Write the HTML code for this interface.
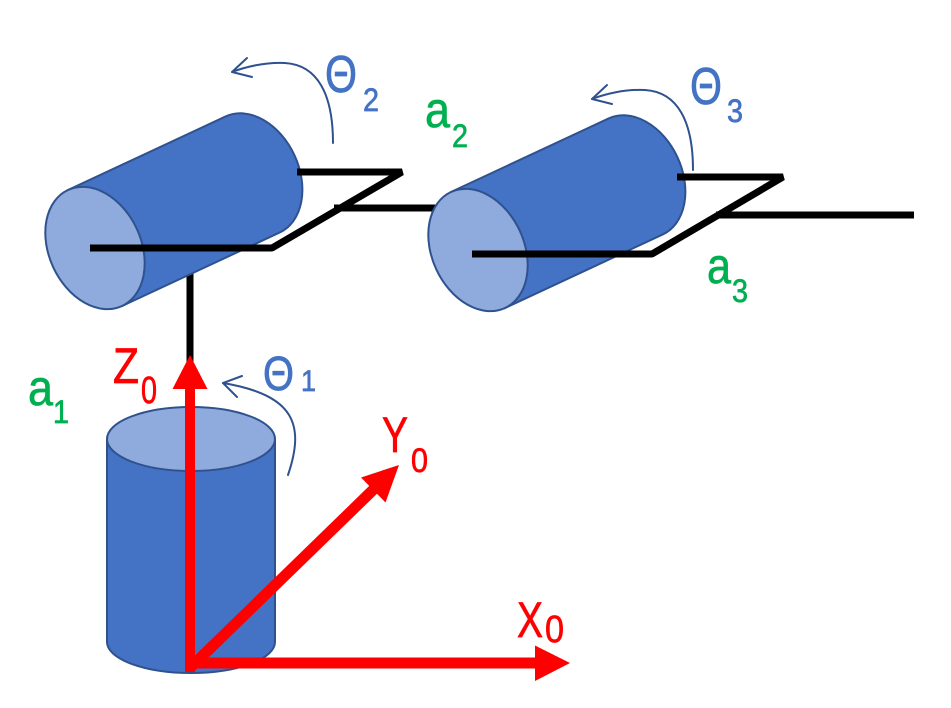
<!DOCTYPE html>
<html>
<head>
<meta charset="utf-8">
<style>
  html, body { margin: 0; padding: 0; background: #ffffff; }
  body { width: 951px; height: 708px; overflow: hidden; }
  svg { display: block; }
  text { font-family: "Liberation Sans", "DejaVu Sans", sans-serif; }
</style>
</head>
<body>
<svg width="951" height="708" viewBox="0 0 951 708" xmlns="http://www.w3.org/2000/svg">
  <rect x="0" y="0" width="951" height="708" fill="#ffffff"/>

  <!-- vertical link from cylinder 1 down to base -->
  <line x1="190" y1="262" x2="190" y2="362" stroke="#000" stroke-width="7"/>

  <!-- Cylinder 1 (joint 2) -->
  <g transform="translate(95,248) rotate(-25)">
    <path d="M0,-64 L174,-64 A46,64 0 0 1 174,64 L0,64 Z" fill="#4472C4" stroke="#2F528F" stroke-width="2"/>
    <ellipse cx="0" cy="0" rx="46" ry="64" fill="#8FAADC" stroke="#2F528F" stroke-width="2"/>
  </g>

  <!-- link lines of cylinder 1 -->
  <polyline points="297,172 402,172 272,248 90,248" fill="none" stroke="#000" stroke-width="7" stroke-linejoin="bevel"/>
  <line x1="334" y1="208" x2="450" y2="208" stroke="#000" stroke-width="7"/>

  <!-- Cylinder 2 (joint 3) -->
  <g transform="translate(478,250) rotate(-25)">
    <path d="M0,-64 L174,-64 A46,64 0 0 1 174,64 L0,64 Z" fill="#4472C4" stroke="#2F528F" stroke-width="2"/>
    <ellipse cx="0" cy="0" rx="46" ry="64" fill="#8FAADC" stroke="#2F528F" stroke-width="2"/>
  </g>

  <!-- link lines of cylinder 2 -->
  <polyline points="677,177 783,177 652,254 472,254" fill="none" stroke="#000" stroke-width="7" stroke-linejoin="bevel"/>
  <line x1="716" y1="215" x2="914" y2="215" stroke="#000" stroke-width="7"/>

  <!-- Base cylinder -->
  <path d="M107,439 L107,642 A84,31 0 0 0 275,642 L275,439 Z" fill="#4472C4" stroke="#2F528F" stroke-width="2"/>
  <ellipse cx="191" cy="439" rx="84" ry="32" fill="#8FAADC" stroke="#2F528F" stroke-width="2"/>

  <!-- Red axes -->
  <line x1="190" y1="672" x2="190" y2="386" stroke="#FF0000" stroke-width="10"/>
  <polygon points="190,355 207.5,389 172.5,389" fill="#FF0000"/>
  <line x1="186" y1="663" x2="537" y2="663" stroke="#FF0000" stroke-width="11"/>
  <polygon points="570,663 535,645.5 535,681" fill="#FF0000"/>
  <line x1="190" y1="668" x2="375" y2="488" stroke="#FF0000" stroke-width="11"/>
  <polygon points="399,465 361,477.5 385.5,502.5" fill="#FF0000"/>

  <!-- Rotation arcs -->
  <g fill="none" stroke="#2F528F" stroke-width="2" stroke-linecap="round" stroke-linejoin="round">
    <path d="M288,475 C305,425 295,395 223,383"/>
    <polyline points="242,376 223,383 237,397"/>
    <path d="M333,143 C333,95 318,65 285,63 C265,62 245,67 232,72"/>
    <polyline points="247,58 232,72 252,77"/>
    <path d="M693,170 C693,122 678,92 645,90 C625,89 605,94 592,99"/>
    <polyline points="607,85 592,99 612,104"/>
  </g>

  <!-- Labels -->
  <g stroke-width="0.7">
  <text x="28" y="405" font-size="50" fill="#00B050" stroke="#00B050" textLength="25" lengthAdjust="spacingAndGlyphs">a</text>
  <text x="53" y="423" font-size="32" fill="#00B050" stroke="#00B050" textLength="16" lengthAdjust="spacingAndGlyphs">1</text>

  <text x="113" y="383" font-size="50" fill="#FF0000" stroke="#FF0000" textLength="26" lengthAdjust="spacingAndGlyphs">Z</text>
  <text x="141" y="403" font-size="38" fill="#FF0000" stroke="#FF0000" textLength="16" lengthAdjust="spacingAndGlyphs">0</text>

  <text x="263" y="390" font-size="48" fill="#4472C4" stroke="#4472C4" textLength="31" lengthAdjust="spacingAndGlyphs">Θ</text>
  <text x="301" y="391" font-size="30" fill="#4472C4" stroke="#4472C4" textLength="15" lengthAdjust="spacingAndGlyphs">1</text>

  <text x="382" y="452" font-size="50" fill="#FF0000" stroke="#FF0000" textLength="26" lengthAdjust="spacingAndGlyphs">Y</text>
  <text x="411" y="472" font-size="34" fill="#FF0000" stroke="#FF0000" textLength="17" lengthAdjust="spacingAndGlyphs">0</text>

  <text x="517" y="637" font-size="50" fill="#FF0000" stroke="#FF0000" textLength="26" lengthAdjust="spacingAndGlyphs">X</text>
  <text x="545" y="642" font-size="38" fill="#FF0000" stroke="#FF0000" textLength="19" lengthAdjust="spacingAndGlyphs">0</text>

  <text x="325" y="92" font-size="52" fill="#4472C4" stroke="#4472C4" textLength="32" lengthAdjust="spacingAndGlyphs">Θ</text>
  <text x="363" y="111" font-size="32" fill="#4472C4" stroke="#4472C4" textLength="16" lengthAdjust="spacingAndGlyphs">2</text>

  <text x="425" y="127" font-size="50" fill="#00B050" stroke="#00B050" textLength="25" lengthAdjust="spacingAndGlyphs">a</text>
  <text x="452" y="147" font-size="32" fill="#00B050" stroke="#00B050" textLength="16" lengthAdjust="spacingAndGlyphs">2</text>

  <text x="690" y="104" font-size="52" fill="#4472C4" stroke="#4472C4" textLength="32" lengthAdjust="spacingAndGlyphs">Θ</text>
  <text x="727" y="122" font-size="32" fill="#4472C4" stroke="#4472C4" textLength="16" lengthAdjust="spacingAndGlyphs">3</text>

  <text x="707" y="283" font-size="50" fill="#00B050" stroke="#00B050" textLength="24" lengthAdjust="spacingAndGlyphs">a</text>
  <text x="732" y="302" font-size="32" fill="#00B050" stroke="#00B050" textLength="16" lengthAdjust="spacingAndGlyphs">3</text>
  </g>
</svg>
</body>
</html>
